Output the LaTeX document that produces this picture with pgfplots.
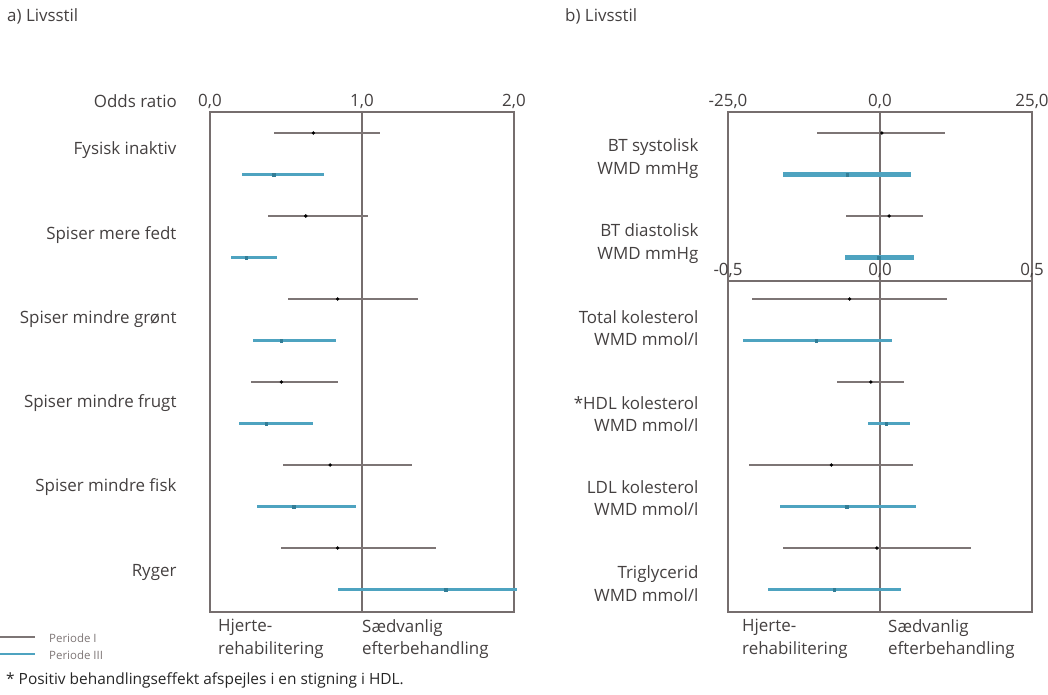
\documentclass[border=0pt]{standalone}
\usepackage{fontspec}
\setmainfont{Open Sans}
\usepackage{pgfplots}
\pgfplotsset{compat=1.18}
\usepackage{pgfplotstable}
\definecolor{cgray}{RGB}{125,117,117}
\definecolor{cblue}{RGB}{78,163,192}
\definecolor{cbluedark}{RGB}{50,125,150}
\definecolor{cframe}{RGB}{118,110,110}
\definecolor{ctext}{RGB}{68,64,64}
\newcommand\lbl{\fontsize{17}{22.5}\selectfont}

% y = -row ; gray rows (Periode I) at integers, blue rows (Periode III) at +0.5
\pgfplotstableread{
y pt lo hi
-1 0.68 0.42 1.12
-2 0.63 0.38 1.04
-3 0.84 0.51 1.37
-4 0.47 0.27 0.84
-5 0.79 0.48 1.33
-6 0.84 0.47 1.49
}\oddsgray
\pgfplotstableread{
y pt lo hi
-1.5 0.42 0.21 0.75
-2.5 0.24 0.14 0.44
-3.5 0.47 0.28 0.83
-4.5 0.37 0.19 0.68
-5.5 0.55 0.31 0.96
-6.5 1.55 0.84 2.02
}\oddsblue
\pgfplotstableread{
y pt lo hi
-1 0.3 -10.4 10.7
-2 1.5 -5.6 7.1
}\bpgray
\pgfplotstableread{
y pt lo hi
-1.5 -5.4 -16.0 5.1
-2.5 -0.2 -5.8 5.6
}\bpblue
\pgfplotstableread{
y pt lo hi
-3 -0.10 -0.42 0.22
-4 -0.03 -0.14 0.08
-5 -0.16 -0.43 0.11
-6 -0.01 -0.32 0.30
}\lipgray
\pgfplotstableread{
y pt lo hi
-3.5 -0.21 -0.45 0.04
-4.5 0.02 -0.04 0.10
-5.5 -0.11 -0.33 0.12
-6.5 -0.15 -0.37 0.07
}\lipblue

\pgfplotsset{
  forest/.style={
    scale only axis, width=304bp, clip=false,
    axis line style={cframe, line width=1.6bp},
    xticklabel pos=upper, major tick length=0pt,
    tick style={draw=none},
    tick label style={font=\lbl, text=ctext},
    yticklabel style={align=right, anchor=east, xshift=-26bp},
  },
  cig/.style={draw=none, mark=none, forget plot,
    error bars/.cd, x dir=both, x explicit, error mark=none,
    error bar style={draw=cgray, line width=#1, solid}},
  cib/.style={draw=none, mark=none, forget plot,
    error bars/.cd, x dir=both, x explicit, error mark=none,
    error bar style={draw=cblue, line width=#1, solid}},
  ptg/.style={only marks, mark=*, mark size=1.5bp, mark options={fill=black, draw=black}},
  ptb/.style={only marks, mark=square*, mark size=1.2bp, mark options={fill=cbluedark, draw=cbluedark}},
  table/citab/.style={x=pt, y=y, x error plus expr=\thisrow{hi}-\thisrow{pt}, x error minus expr=\thisrow{pt}-\thisrow{lo}},
}

\begin{document}
\begin{tikzpicture}[font=\lbl]
\useasboundingbox (0,0) rectangle (1048bp,-695bp);

% ---------- a) ----------
\begin{axis}[forest, at={(210bp,-612bp)}, anchor=south west, height=500bp,
  xmin=0, xmax=2, ymin=-6.771, ymax=-0.747,
  xtick={0,1,2}, xticklabels={{0,0},{1,0},{2,0}},
  yticklabel style={xshift=-4bp},
  ytick={-6.29,-5.27,-4.25,-3.24,-2.23,-1.21},
  yticklabels={Ryger,Spiser mindre fisk,Spiser mindre frugt,Spiser mindre grønt,Spiser mere fedt,Fysisk inaktiv}]
  \addplot[cframe, line width=1.6bp] coordinates {(1,-0.747) (1,-6.771)};
  \addplot[cig=2.2bp] table[citab]{\oddsgray};
  \addplot[cib=2.8bp] table[citab]{\oddsblue};
  \addplot[ptg] table[x=pt, y=y]{\oddsgray};
  \addplot[ptb] table[x=pt, y=y]{\oddsblue};
\end{axis}

% ---------- b) top ----------
\begin{axis}[forest, at={(728bp,-281bp)}, anchor=south west, height=169bp,
  xmin=-25, xmax=25, ymin=-2.783, ymax=-0.747,
  xtick={-25,0,25}, xticklabels={{-25,0},{0,0},{25,0}},
  ytick={-2.33,-1.31},
  yticklabels={{BT diastolisk\\WMD mmHg},{BT systolisk\\WMD mmHg}}]
  \addplot[cframe, line width=1.6bp] coordinates {(0,-0.747) (0,-2.783)};
  \addplot[cig=2.2bp] table[citab]{\bpgray};
  \addplot[cib=4.2bp] table[citab]{\bpblue};
  \addplot[ptg] table[x=pt, y=y]{\bpgray};
  \addplot[ptb] table[x=pt, y=y]{\bpblue};
\end{axis}

% ---------- b) bottom ----------
\begin{axis}[forest, at={(728bp,-612bp)}, anchor=south west, height=331bp,
  xmin=-0.5, xmax=0.5, ymin=-6.771, ymax=-2.783,
  xtick={-0.5,0,0.5}, xticklabels={{-0,5},{0,0},{0,5}},
  ytick={-6.43,-5.40,-4.39,-3.35},
  yticklabels={{Triglycerid\\WMD mmol/l},{LDL kolesterol\\WMD mmol/l},{*HDL kolesterol\\WMD mmol/l},{Total kolesterol\\WMD mmol/l}}]
  \addplot[cframe, line width=1.6bp] coordinates {(0,-2.783) (0,-6.771)};
  \addplot[cig=2.2bp] table[citab]{\lipgray};
  \addplot[cib=3.6bp] table[citab]{\lipblue};
  \addplot[ptg] table[x=pt, y=y]{\lipgray};
  \addplot[ptb] table[x=pt, y=y]{\lipblue};
\end{axis}

% ---------- texts ----------
\node[anchor=west, inner sep=0, text=ctext] at (7bp,-16bp) {a) Livsstil};
\node[anchor=west, inner sep=0, text=ctext] at (565bp,-16bp) {b) Livsstil};
\node[anchor=east, inner sep=0, text=ctext] at (177bp,-101bp) {Odds ratio};

\node[anchor=north west, inner sep=0, align=left, text=ctext] at (218bp,-619bp) {Hjerte-\\rehabilitering};
\node[anchor=north west, inner sep=0, align=left, text=ctext] at (362bp,-619bp) {Sædvanlig\\efterbehandling};
\node[anchor=north west, inner sep=0, align=left, text=ctext] at (742bp,-619bp) {Hjerte-\\rehabilitering};
\node[anchor=north west, inner sep=0, align=left, text=ctext] at (888bp,-619bp) {Sædvanlig\\efterbehandling};

% legend
\draw[cgray, line width=1.3bp] (0,-637bp) -- (35bp,-637bp);
\draw[cblue, line width=1.3bp] (0,-654bp) -- (35bp,-654bp);
\node[anchor=west, inner sep=0, text=cgray, font=\fontsize{11.5}{13}\selectfont] at (49bp,-638bp) {Periode I};
\node[anchor=west, inner sep=0, text=cgray, font=\fontsize{11.5}{13}\selectfont] at (49bp,-655bp) {Periode III};

% footnote
\node[anchor=west, inner sep=0, text=black!85, font=\fontsize{15.5}{18}\selectfont] at (6bp,-680bp) {* Positiv behandlingseffekt afspejles i en stigning i HDL.};
\end{tikzpicture}
\end{document}
